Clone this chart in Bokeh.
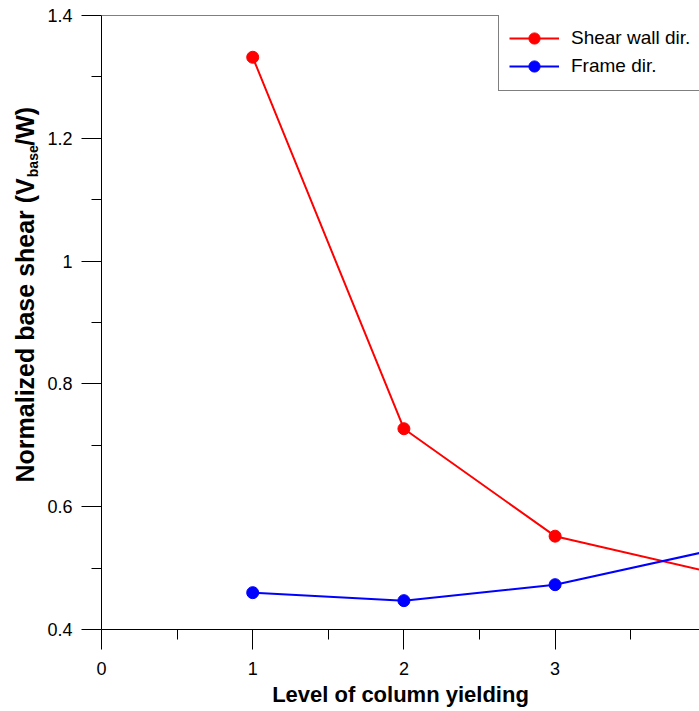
import math

from bokeh.core.properties import value
from bokeh.embed import file_html
from bokeh.layouts import row
from bokeh.models import (FixedTicker, Legend, LegendItem,
                          PrintfTickFormatter, Range1d, Span)
from bokeh.plotting import figure
from bokeh.resources import INLINE

# Base shear normalized by weight, per level of column yielding
levels = [1, 2, 3, 4]
shear_wall_dir = [1.332, 0.727, 0.552, 0.495]
frame_dir = [0.460, 0.447, 0.473, 0.527]

x_ticks = [0, 1, 2, 3, 4]
x_minor_ticks = [0.5, 1.5, 2.5, 3.5]
y_ticks = [0.4, 0.6, 0.8, 1.0, 1.2, 1.4]
y_minor_ticks = [0.5, 0.7, 0.9, 1.1, 1.3]

FONT = "Liberation Sans"
TITLE_W = 40
HEIGHT = 711
BORDER_TOP = 15
BORDER_BOTTOM = 82

# ---- main chart -------------------------------------------------------------
p = figure(width=699 - TITLE_W, height=HEIGHT,
           x_range=Range1d(0, 3.955), y_range=Range1d(0.4, 1.4),
           output_backend="svg", toolbar_location=None,
           min_border_left=101 - TITLE_W, min_border_right=0,
           min_border_top=BORDER_TOP, min_border_bottom=BORDER_BOTTOM)
p.outline_line_color = None
p.xgrid.visible = False
p.ygrid.visible = False
p.background_fill_color = "white"
p.border_fill_color = "white"

for ax in (p.xaxis[0], p.yaxis[0]):
    ax.axis_line_color = "black"
    ax.axis_line_width = 1
    ax.major_tick_line_color = "black"
    ax.minor_tick_line_color = "black"
    ax.major_tick_in = 0
    ax.major_tick_out = 20
    ax.minor_tick_in = 0
    ax.minor_tick_out = 10
    ax.major_label_text_font = FONT
    ax.major_label_text_font_size = "18px"
    ax.major_label_text_color = "black"
    ax.formatter = PrintfTickFormatter(format="%g")

p.xaxis.ticker = FixedTicker(ticks=x_ticks, minor_ticks=x_minor_ticks)
p.yaxis.ticker = FixedTicker(ticks=y_ticks, minor_ticks=y_minor_ticks)
p.xaxis.major_label_standoff = 12
p.yaxis.major_label_standoff = 9

p.xaxis.axis_label = "Level of column yielding"
p.xaxis.axis_label_text_font = FONT
p.xaxis.axis_label_text_font_size = "22px"
p.xaxis.axis_label_text_font_style = "bold"
p.xaxis.axis_label_text_color = "black"
p.xaxis.axis_label_standoff = 4

# top edge of the plotting frame
p.add_layout(Span(location=1.4, dimension="width", line_color="black", line_width=1))

r1 = p.line(levels, shear_wall_dir, line_color="#ff0000", line_width=2)
s1 = p.scatter(levels, shear_wall_dir, size=12, fill_color="#ff0000", line_color="#ff0000")
r2 = p.line(levels, frame_dir, line_color="#0000ff", line_width=2)
s2 = p.scatter(levels, frame_dir, size=12, fill_color="#0000ff", line_color="#0000ff")

legend = Legend(
    items=[LegendItem(label="Shear wall dir.", renderers=[r1, s1]),
           LegendItem(label="Frame dir.", renderers=[r2, s2])],
    location=(397, 538), margin=0, padding=10, spacing=0,
    glyph_height=28, glyph_width=50, label_height=28, label_standoff=12,
    label_text_font=FONT, label_text_font_size="19px", label_text_color="black",
    border_line_color="black", border_line_width=1,
    background_fill_color="white", background_fill_alpha=1.0,
)
p.add_layout(legend)

# ---- vertical axis title with subscript --------------------------------------
# a narrow strip whose data space is in pixels, measured from the canvas bottom
t = figure(width=TITLE_W, height=HEIGHT,
           x_range=Range1d(0, TITLE_W),
           y_range=Range1d(BORDER_BOTTOM, HEIGHT - BORDER_TOP),
           x_axis_type=None, y_axis_type=None,
           output_backend="svg", toolbar_location=None,
           min_border_left=0, min_border_right=0,
           min_border_top=BORDER_TOP, min_border_bottom=BORDER_BOTTOM)
t.outline_line_color = None
t.xgrid.visible = False
t.ygrid.visible = False
t.background_fill_color = "white"
t.border_fill_color = "white"

title_x = 24
title_bottom = HEIGHT - 482
main_len = 304.3
sub_len = 32.5
common = dict(angle=math.pi / 2, text_align="left", text_baseline="middle",
              text_font=value(FONT), text_font_style="bold", text_color="black")
t.text(x=[title_x], y=[title_bottom], text=["Normalized base shear (V"],
       text_font_size="25px", **common)
t.text(x=[title_x + 8], y=[title_bottom + main_len + 1], text=["base"],
       text_font_size="14px", **common)
t.text(x=[title_x], y=[title_bottom + main_len + sub_len], text=["/W)"],
       text_font_size="25px", **common)

layout = row(t, p, spacing=0)
open("out.html", "w").write(file_html(layout, INLINE))
